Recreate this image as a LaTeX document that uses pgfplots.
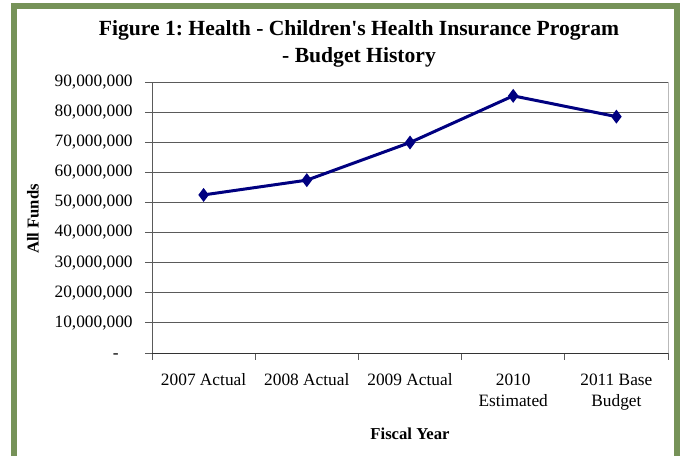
\documentclass[border=0pt]{standalone}
\usepackage{pgfplots}
\pgfplotsset{compat=1.18}
\usepackage{fontspec}
\setmainfont{Liberation Serif}
\frenchspacing
\definecolor{framegreen}{RGB}{118,146,88}
\definecolor{series}{RGB}{0,0,128}
\definecolor{gridgray}{RGB}{90,90,90}
\begin{document}
\begin{tikzpicture}
\path[use as bounding box] (0,0) rectangle (513pt,341.25pt);
% outer frame
\draw[framegreen, line width=4.5pt] (10.35pt,-20pt) -- (10.35pt,336.75pt) -- (507.75pt,336.75pt) -- (507.75pt,-20pt);
\begin{axis}[
  scale only axis, width=387pt, height=203.25pt,
  at={(114pt,76.5pt)}, anchor=south west,
  xmin=0.5, xmax=5.5, ymin=0, ymax=90000000,
  scaled y ticks=false,
  axis line style={draw=none},
  xtick={0.5,1.5,2.5,3.5,4.5,5.5},
  x tick label as interval,
  xticklabels={2007 Actual, 2008 Actual, 2009 Actual, 2010\\Estimated, 2011 Base\\Budget},
  ytick={0,10000000,20000000,30000000,40000000,50000000,60000000,70000000,80000000,90000000},
  yticklabels={-\phantom{0}\kern4pt, {10,000,000}, {20,000,000}, {30,000,000}, {40,000,000}, {50,000,000}, {60,000,000}, {70,000,000}, {80,000,000}, {90,000,000}},
  xtick pos=bottom, ytick pos=left,
  tick align=outside, major tick length=5pt,
  tick style={gridgray, line width=0.75pt},
  ymajorgrids, major grid style={gridgray, line width=0.75pt},
  xticklabel style={align=center, font=\fontsize{13}{15.75}\selectfont, yshift=-7pt},
  yticklabel style={font=\fontsize{13}{15.6}\selectfont, xshift=-6pt},
  clip=false,
]
\draw[gray!55, line width=0.75pt] (rel axis cs:1,0) -- (rel axis cs:1,1);
\draw[gridgray, line width=0.75pt] (rel axis cs:0,0) -- (rel axis cs:0,1);
\draw[black!80, line width=0.75pt] (rel axis cs:0,0) -- (rel axis cs:1,0);
\addplot[series, line width=2.25pt, mark=diamond*, mark size=3.4pt, mark options={solid}]
  coordinates {(1,52500000) (2,57400000) (3,69900000) (4,85400000) (5,78500000)};
\end{axis}
% titles and axis labels
\node[anchor=base, font=\fontsize{16.2}{19.5}\bfseries\selectfont] at (269.25pt,315pt) {Figure 1: Health - Children\textquotesingle s Health Insurance Program};
\node[anchor=base, font=\fontsize{16.2}{19.5}\bfseries\selectfont] at (269.25pt,294.4pt) {- Budget History};
\node[anchor=base, font=\fontsize{12.5}{15}\bfseries\selectfont] at (307.5pt,12pt) {Fiscal Year};
\node[anchor=base, rotate=90, font=\fontsize{12.5}{15}\bfseries\selectfont] at (28.9pt,177pt) {All Funds};
\end{tikzpicture}
\end{document}
